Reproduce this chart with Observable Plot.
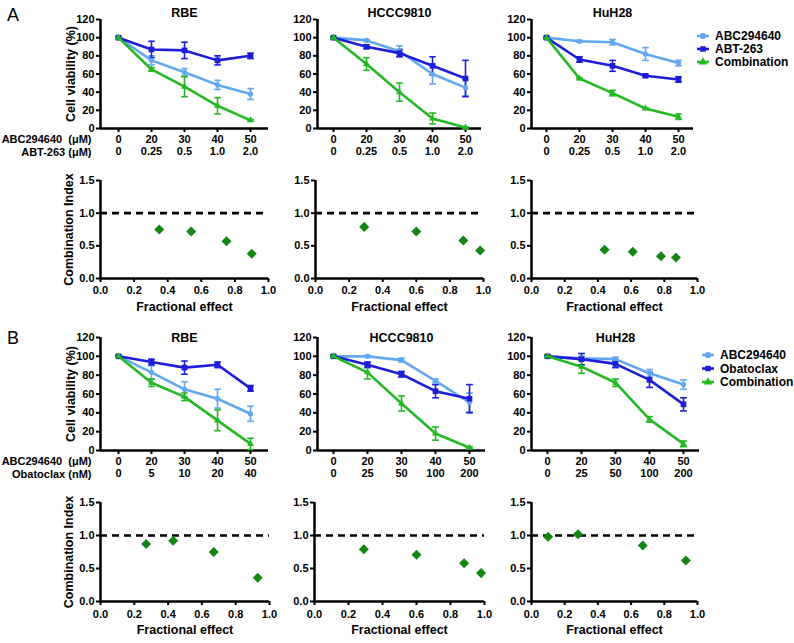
<!DOCTYPE html>
<html><head><meta charset="utf-8">
<script src="https://cdn.jsdelivr.net/npm/d3@7"></script>
<script src="https://cdn.jsdelivr.net/npm/@observablehq/plot@0.6"></script>
<style>
body{margin:0;background:#fff;}
#fig{position:relative;width:794px;height:643px;overflow:hidden;font-family:"Liberation Sans",Arial,sans-serif;}
.panel{position:absolute;}
.letter{position:absolute;font-size:18px;line-height:18px;color:#000;}
</style></head><body><div id="fig"></div>
<script>
// ---------- tick labels ----------
const doseABC = ["0","20","30","40","50"];
const doseABT = ["0","0.25","0.5","1.0","2.0"];
const doseObaRBE = ["0","5","10","20","40"];
const doseOba = ["0","25","50","100","200"];
const yTicksViab = [0,20,40,60,80,100,120];
const yTicksCI = [0,0.5,1.0,1.5];
const xTicksCI = [0,0.2,0.4,0.6,0.8,1.0];
const seriesA = ["ABC294640","ABT-263","Combination"];
const seriesB = ["ABC294640","Obatoclax","Combination"];
const cellLines = ["RBE","HCCC9810","HuH28"];

// ---------- Panel A: viability (%) mean and error ----------
const aRbeAbc = [100,75,62,48,38];   const aRbeAbcErr = [1,5,4,5,6];
const aRbeAbt = [100,87,86,75,80];   const aRbeAbtErr = [1,9,9,5,3];
const aRbeCmb = [100,65,46,25,9];    const aRbeCmbErr = [1,2,11,9,1];
const aHcAbc = [100,97,85,60,45];    const aHcAbcErr = [1,1,6,11,9];
const aHcAbt = [100,90,83,69,55];    const aHcAbtErr = [1,2,4,10,20];
const aHcCmb = [100,71,40,11,1];     const aHcCmbErr = [1,7,10,6,1];
const aHuAbc = [100,96,95,82,72];    const aHuAbcErr = [1,1,3,7,3];
const aHuAbt = [100,76,69,58,54];    const aHuAbtErr = [1,3,6,1,3];
const aHuCmb = [100,55,39,22,13];    const aHuCmbErr = [1,1,3,1,3];

// ---------- Panel B: viability (%) mean and error ----------
const bRbeAbc = [100,83,65,55,39];   const bRbeAbcErr = [1,7,8,10,8];
const bRbeOba = [100,94,88,91,66];   const bRbeObaErr = [1,3,7,3,3];
const bRbeCmb = [100,72,57,32,7];    const bRbeCmbErr = [1,4,4,11,6];
const bHcAbc = [100,100,96,74,51];   const bHcAbcErr = [1,1,2,2,10];
const bHcOba = [100,91,81,63,55];    const bHcObaErr = [1,3,3,7,15];
const bHcCmb = [100,83,50,18,3];     const bHcCmbErr = [1,7,8,7,1];
const bHuAbc = [100,98,97,82,70];    const bHuAbcErr = [1,2,2,4,5];
const bHuOba = [100,97,92,75,49];    const bHuObaErr = [1,6,4,8,7];
const bHuCmb = [100,89,72,33,7];     const bHuCmbErr = [1,7,4,3,3];

// ---------- Combination index vs fractional effect ----------
const aRbeFa = [0.35,0.54,0.75,0.90];  const aRbeCi = [0.75,0.72,0.57,0.38];
const aHcFa  = [0.29,0.60,0.88,0.98];  const aHcCi  = [0.79,0.72,0.58,0.43];
const aHuFa  = [0.44,0.61,0.78,0.87];  const aHuCi  = [0.44,0.41,0.34,0.32];
const bRbeFa = [0.27,0.43,0.67,0.93];  const bRbeCi = [0.87,0.92,0.75,0.36];
const bHcFa  = [0.29,0.60,0.88,0.98];  const bHcCi  = [0.79,0.71,0.58,0.43];
const bHuFa  = [0.10,0.28,0.67,0.93];  const bHuCi  = [0.98,1.02,0.85,0.62];

// ---------- styling ----------
const cLight = "#62a8f0", cDark = "#1e1ed8", cGreen = "#25b825", cDiamond = "#158515";
const symbols = ["circle","square","triangle"];
const colors = [cLight, cDark, cGreen];
const FONT = "'Liberation Sans', Arial, sans-serif";
const fig = document.getElementById("fig");

function place(node, left, top) {
  node.classList.add("panel");
  node.style.left = left + "px";
  node.style.top = top + "px";
  fig.appendChild(node);
}

function viability(cfg) {
  const ML = 100, MR = 8, MT = 24, MB = 40;
  const padPx = cfg.idx0Px - cfg.axisPx;
  const pad = padPx / cfg.step;
  const fw = 4 * cfg.step + 2 * padPx;
  const fh = cfg.botPx - cfg.topPx;
  const marks = [
    Plot.axisY({ticks: yTicksViab, tickSize: 4, tickPadding: 2, strokeWidth: 2, label: null}),
    Plot.axisX({ticks: [0,1,2,3,4], tickFormat: i => cfg.row1[i], tickSize: 4, tickPadding: 3, strokeWidth: 2, label: null}),
    Plot.axisX({ticks: [0,1,2,3,4], tickFormat: i => cfg.row2[i], tickSize: 0, tickPadding: 19, label: null}),
    Plot.ruleX([-pad], {strokeWidth: 2.5}),
    Plot.ruleY([0], {strokeWidth: 2.5}),
    Plot.text([cfg.title], {frameAnchor: "top", lineAnchor: "middle", dy: cfg.titleDy, fontSize: 12.5})
  ];
  if (cfg.showLabels) {
    marks.push(Plot.text(["Cell viability (%)"], {frameAnchor: "left", textAnchor: "middle", lineAnchor: "middle", rotate: -90, dx: -30, fontSize: 12.5}));
    marks.push(Plot.text([cfg.rowName1], {frameAnchor: "bottom-left", textAnchor: "end", dx: -9, dy: 14}));
    marks.push(Plot.text([cfg.rowName2], {frameAnchor: "bottom-left", textAnchor: "end", dx: -9, dy: 27}));
  }
  cfg.series.forEach((s, k) => {
    const data = s.vals.map((v, i) => ({i, v, e: s.err[i]}));
    const cap = 0.1;
    marks.push(Plot.ruleX(data, {x: "i", y1: d => d.v - d.e, y2: d => d.v + d.e, stroke: colors[k], strokeWidth: 1.6}));
    marks.push(Plot.link(data, {x1: d => d.i - cap, x2: d => d.i + cap, y1: d => d.v + d.e, y2: d => d.v + d.e, stroke: colors[k], strokeWidth: 1.6}));
    marks.push(Plot.link(data, {x1: d => d.i - cap, x2: d => d.i + cap, y1: d => d.v - d.e, y2: d => d.v - d.e, stroke: colors[k], strokeWidth: 1.6}));
  });
  cfg.series.forEach((s, k) => {
    const data = s.vals.map((v, i) => ({i, v}));
    marks.push(Plot.line(data, {x: "i", y: "v", stroke: colors[k], strokeWidth: 2.6}));
    marks.push(Plot.dot(data, {x: "i", y: "v", symbol: symbols[k], fill: colors[k], r: k === 1 ? 3.2 : 2.6}));
  });
  const p = Plot.plot({
    width: ML + fw + MR, height: MT + fh + MB,
    marginLeft: ML, marginRight: MR, marginTop: MT, marginBottom: MB,
    x: {domain: [-pad, 4 + pad]}, y: {domain: [0, 120]},
    style: {fontFamily: FONT, fontSize: "11px", fontWeight: "bold", color: "#000", background: "transparent", overflow: "visible"},
    marks
  });
  place(p, cfg.axisPx - ML, cfg.topPx - MT);
}

function ciPanel(cfg) {
  const ML = 100, MR = 8, MT = 12, MB = 40;
  const fw = cfg.x1Px - cfg.x0Px;
  const fh = cfg.botPx - cfg.topPx;
  const data = cfg.fa.map((f, i) => ({f, c: cfg.ci[i]}));
  const marks = [
    Plot.axisY({ticks: yTicksCI, tickFormat: d3.format(".1f"), tickSize: 4, tickPadding: 2, strokeWidth: 2, label: null}),
    Plot.axisX({ticks: xTicksCI, tickFormat: d3.format(".1f"), tickSize: 4, tickPadding: cfg.tickPad, strokeWidth: 2, label: null}),
    Plot.ruleX([0], {strokeWidth: 2.5}),
    Plot.ruleY([0], {strokeWidth: 2.5}),
    Plot.ruleY([1], {strokeWidth: 2.6, strokeDasharray: "7,5"}),
    Plot.dot(data, {x: "f", y: "c", symbol: "square", rotate: 45, fill: cDiamond, r: 4}),
    Plot.text(["Fractional effect"], {frameAnchor: "bottom", dy: 32, fontSize: 12.5})
  ];
  if (cfg.showLabels) marks.push(Plot.text(["Combination Index"], {frameAnchor: "left", textAnchor: "middle", lineAnchor: "middle", rotate: -90, dx: -32, fontSize: 12.5}));
  const p = Plot.plot({
    width: ML + fw + MR, height: MT + fh + MB,
    marginLeft: ML, marginRight: MR, marginTop: MT, marginBottom: MB,
    x: {domain: [0, 1]}, y: {domain: [0, 1.5]},
    style: {fontFamily: FONT, fontSize: "11px", fontWeight: "bold", color: "#000", background: "transparent", overflow: "visible"},
    marks
  });
  place(p, cfg.x0Px - ML, cfg.topPx - MT);
}

function legend(names, left, top, rowH) {
  const svg = d3.create("svg").attr("width", 110).attr("height", rowH * 3 + 10)
    .style("overflow", "visible").style("font-family", FONT).style("font-weight", "bold").style("font-size", "12px");
  names.forEach((n, k) => {
    const g = svg.append("g").attr("transform", `translate(0,${5 + k * rowH})`);
    g.append("line").attr("x1", 0).attr("x2", 12).attr("stroke", colors[k]).attr("stroke-width", 2.6);
    const sym = k === 0 ? d3.symbolCircle : k === 1 ? d3.symbolSquare : d3.symbolTriangle;
    g.append("path").attr("transform", "translate(6,0)").attr("d", d3.symbol(sym, 30)()).attr("fill", colors[k]);
    g.append("text").attr("x", 18).attr("dy", "0.35em").text(n);
  });
  place(svg.node(), left, top - 5);
}

function letter(t, left, top) {
  const d = document.createElement("div");
  d.className = "letter"; d.textContent = t;
  d.style.left = left + "px"; d.style.top = top + "px";
  fig.appendChild(d);
}

const mk = (v1, e1, v2, e2, v3, e3) => [{vals: v1, err: e1}, {vals: v2, err: e2}, {vals: v3, err: e3}];

// Panel A
viability({axisPx: 100, idx0Px: 118, step: 33, topPx: 19, botPx: 128, title: cellLines[0], titleDy: -7,
  row1: doseABC, row2: doseABT, showLabels: true, rowName1: "ABC294640\u00a0\u00a0(\u03bcM)", rowName2: "ABT-263 (\u03bcM)",
  series: mk(aRbeAbc, aRbeAbcErr, aRbeAbt, aRbeAbtErr, aRbeCmb, aRbeCmbErr)});
viability({axisPx: 317, idx0Px: 333, step: 33, topPx: 19, botPx: 128, title: cellLines[1], titleDy: -7,
  row1: doseABC, row2: doseABT, showLabels: false,
  series: mk(aHcAbc, aHcAbcErr, aHcAbt, aHcAbtErr, aHcCmb, aHcCmbErr)});
viability({axisPx: 531, idx0Px: 546, step: 33, topPx: 19, botPx: 128, title: cellLines[2], titleDy: -7,
  row1: doseABC, row2: doseABT, showLabels: false,
  series: mk(aHuAbc, aHuAbcErr, aHuAbt, aHuAbtErr, aHuCmb, aHuCmbErr)});
legend(seriesA, 697, 36, 13);
ciPanel({x0Px: 100, x1Px: 268, topPx: 180, botPx: 278, fa: aRbeFa, ci: aRbeCi, showLabels: true, tickPad: 4});
ciPanel({x0Px: 315, x1Px: 483, topPx: 180, botPx: 278, fa: aHcFa, ci: aHcCi, showLabels: false, tickPad: 4});
ciPanel({x0Px: 531, x1Px: 697, topPx: 180, botPx: 278, fa: aHuFa, ci: aHuCi, showLabels: false, tickPad: 4});

// Panel B
viability({axisPx: 100, idx0Px: 118, step: 33, topPx: 337, botPx: 450, title: cellLines[0], titleDy: 0,
  row1: doseABC, row2: doseObaRBE, showLabels: true, rowName1: "ABC294640\u00a0\u00a0(\u03bcM)", rowName2: "Obatoclax (nM)",
  series: mk(bRbeAbc, bRbeAbcErr, bRbeOba, bRbeObaErr, bRbeCmb, bRbeCmbErr)});
viability({axisPx: 317, idx0Px: 333, step: 34, topPx: 337, botPx: 450, title: cellLines[1], titleDy: 0,
  row1: doseABC, row2: doseOba, showLabels: false,
  series: mk(bHcAbc, bHcAbcErr, bHcOba, bHcObaErr, bHcCmb, bHcCmbErr)});
viability({axisPx: 531, idx0Px: 547, step: 34, topPx: 337, botPx: 450, title: cellLines[2], titleDy: 0,
  row1: doseABC, row2: doseOba, showLabels: false,
  series: mk(bHuAbc, bHuAbcErr, bHuOba, bHuObaErr, bHuCmb, bHuCmbErr)});
legend(seriesB, 702, 355, 13.5);
ciPanel({x0Px: 100, x1Px: 269, topPx: 502, botPx: 601, fa: bRbeFa, ci: bRbeCi, showLabels: true, tickPad: 5});
ciPanel({x0Px: 314, x1Px: 484, topPx: 502, botPx: 601, fa: bHcFa, ci: bHcCi, showLabels: false, tickPad: 5});
ciPanel({x0Px: 531, x1Px: 697, topPx: 502, botPx: 601, fa: bHuFa, ci: bHuCi, showLabels: false, tickPad: 5});

letter("A", 7, 6);
letter("B", 7, 329);
</script></body></html>
